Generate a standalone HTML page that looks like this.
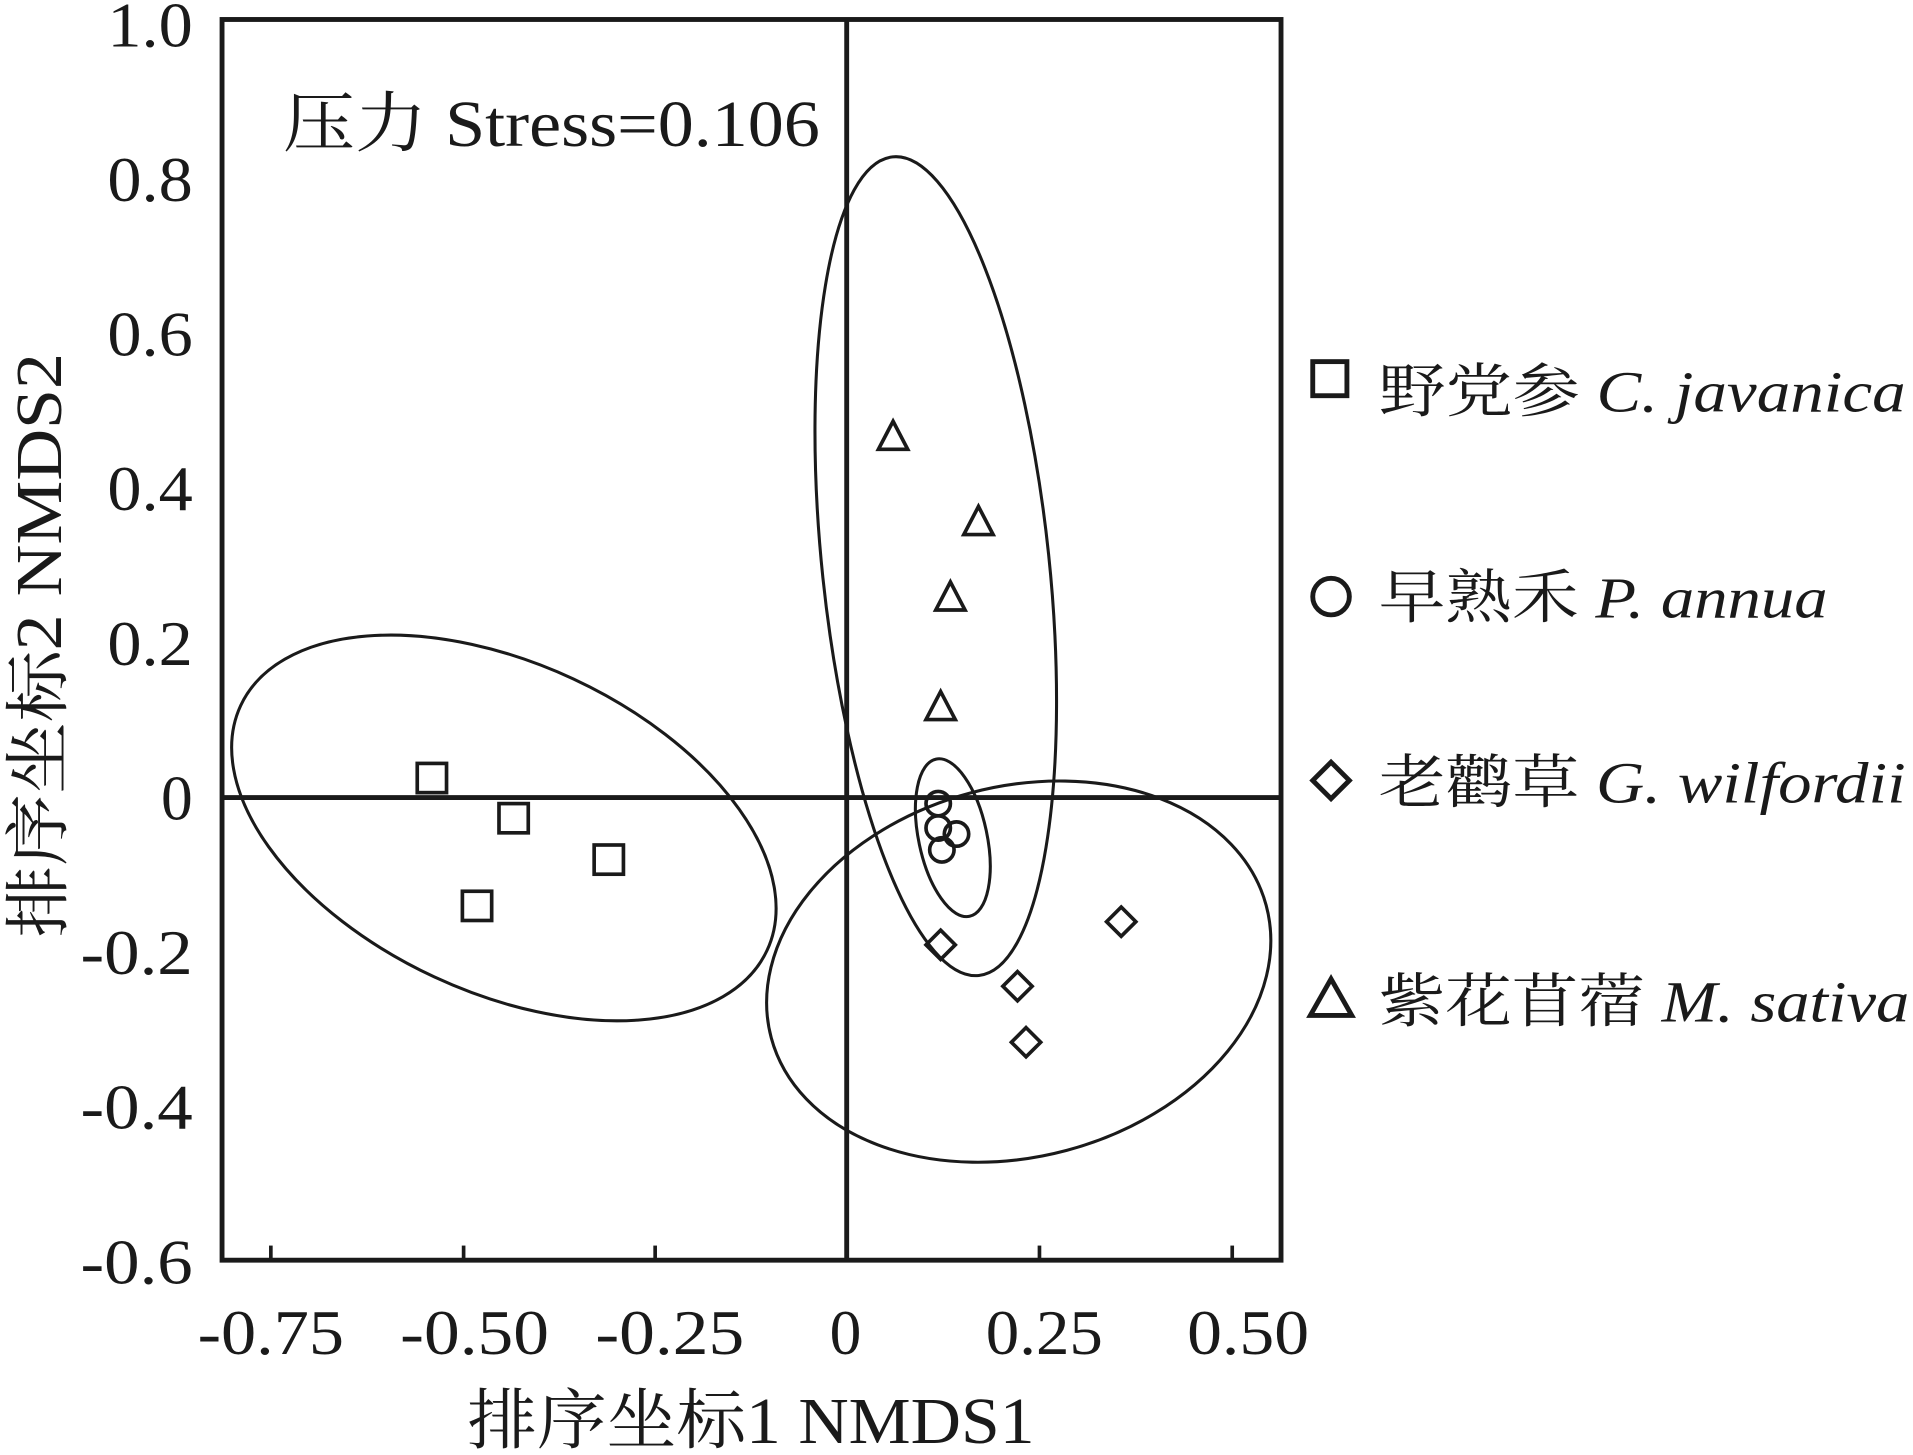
<!DOCTYPE html>
<html><head><meta charset="utf-8"><style>
html,body{margin:0;padding:0;background:#fff;}
svg{display:block;}
text{fill:#1a1a1a;}
</style></head><body>
<svg width="1913" height="1455" viewBox="0 0 1568 1195" preserveAspectRatio="none" xmlns="http://www.w3.org/2000/svg">
<g fill="none" stroke="#1a1a1a">
<rect x="182" y="16" width="868" height="1019" stroke-width="4"/>
<line x1="694" y1="16" x2="694" y2="1035" stroke-width="4"/>
<line x1="182" y1="655" x2="1050" y2="655" stroke-width="4"/>
<g stroke-width="3">
<line x1="222" y1="1035" x2="222" y2="1023"/>
<line x1="380" y1="1035" x2="380" y2="1023"/>
<line x1="537" y1="1035" x2="537" y2="1023"/>
<line x1="852" y1="1035" x2="852" y2="1023"/>
<line x1="1010" y1="1035" x2="1010" y2="1023"/>
</g>
<g stroke-width="2.5">
<ellipse cx="413" cy="680" rx="238" ry="135" transform="rotate(25 413 680)"/>
<ellipse cx="767" cy="465" rx="93" ry="338" transform="rotate(-6 767 465)"/>
<ellipse cx="781" cy="688" rx="28" ry="66" transform="rotate(-12 781 688)"/>
<ellipse cx="835" cy="798" rx="210" ry="152" transform="rotate(-15 835 798)"/>
</g>
<g stroke-width="3">
<rect x="342" y="627" width="24" height="24"/>
<rect x="409" y="660" width="24" height="24"/>
<rect x="487" y="694" width="24" height="24"/>
<rect x="379" y="732" width="24" height="24"/>
<circle cx="769" cy="660" r="10"/>
<circle cx="769" cy="680" r="10"/>
<circle cx="784" cy="685" r="10"/>
<circle cx="772" cy="698" r="10"/>
<polygon points="732,346 744,369 720,369"/>
<polygon points="802,416 814,439 790,439"/>
<polygon points="779,478 791,501 767,501"/>
<polygon points="771,568 783,591 759,591"/>
<polygon points="771,764 783,776 771,788 759,776"/>
<polygon points="919,745 931,757 919,769 907,757"/>
<polygon points="834,798 846,810 834,822 822,810"/>
<polygon points="841,844 853,856 841,868 829,856"/>
<rect x="1076" y="297" width="28" height="28" stroke-width="4"/>
<circle cx="1091" cy="490" r="15" stroke-width="4"/>
<polygon points="1091,626 1106,641 1091,656 1076,641" stroke-width="4"/>
<polygon points="1091,804 1108,834 1074,834" stroke-width="4"/>
</g>
</g>
<g font-family="'Liberation Serif','Noto Serif CJK SC',serif" font-size="52">
<text x="88" y="38" textLength="70" lengthAdjust="spacingAndGlyphs">1.0</text>
<text x="88" y="165" textLength="70" lengthAdjust="spacingAndGlyphs">0.8</text>
<text x="88" y="292" textLength="70" lengthAdjust="spacingAndGlyphs">0.6</text>
<text x="88" y="419" textLength="70" lengthAdjust="spacingAndGlyphs">0.4</text>
<text x="88" y="546" textLength="70" lengthAdjust="spacingAndGlyphs">0.2</text>
<text x="132" y="673" textLength="26" lengthAdjust="spacingAndGlyphs">0</text>
<text x="66" y="800" textLength="92" lengthAdjust="spacingAndGlyphs">-0.2</text>
<text x="66" y="927" textLength="92" lengthAdjust="spacingAndGlyphs">-0.4</text>
<text x="66" y="1054" textLength="92" lengthAdjust="spacingAndGlyphs">-0.6</text>
<text x="162" y="1112" textLength="120" lengthAdjust="spacingAndGlyphs">-0.75</text>
<text x="328" y="1112" textLength="122" lengthAdjust="spacingAndGlyphs">-0.50</text>
<text x="488" y="1112" textLength="122" lengthAdjust="spacingAndGlyphs">-0.25</text>
<text x="680" y="1112" textLength="26" lengthAdjust="spacingAndGlyphs">0</text>
<text x="808" y="1112" textLength="96" lengthAdjust="spacingAndGlyphs">0.25</text>
<text x="973" y="1112" textLength="100" lengthAdjust="spacingAndGlyphs">0.50</text>
<text x="232" y="120" font-size="54" textLength="440" lengthAdjust="spacingAndGlyphs">压力 Stress=0.106</text>
<text x="383" y="1185" font-size="54" textLength="465" lengthAdjust="spacingAndGlyphs">排序坐标1 NMDS1</text>
<text transform="translate(50 770) rotate(-90)" font-size="54" textLength="480" lengthAdjust="spacingAndGlyphs">排序坐标2 NMDS2</text>
<g font-size="48">
<text x="1130" y="338" textLength="432" lengthAdjust="spacingAndGlyphs">野党参 <tspan font-style="italic">C. javanica</tspan></text>
<text x="1130" y="507" textLength="368" lengthAdjust="spacingAndGlyphs">早熟禾 <tspan font-style="italic">P. annua</tspan></text>
<text x="1130" y="659" textLength="432" lengthAdjust="spacingAndGlyphs">老鹳草 <tspan font-style="italic">G. wilfordii</tspan></text>
<text x="1130" y="839" textLength="435" lengthAdjust="spacingAndGlyphs">紫花苜蓿 <tspan font-style="italic">M. sativa</tspan></text>
</g>
</g>
</svg>
</body></html>
